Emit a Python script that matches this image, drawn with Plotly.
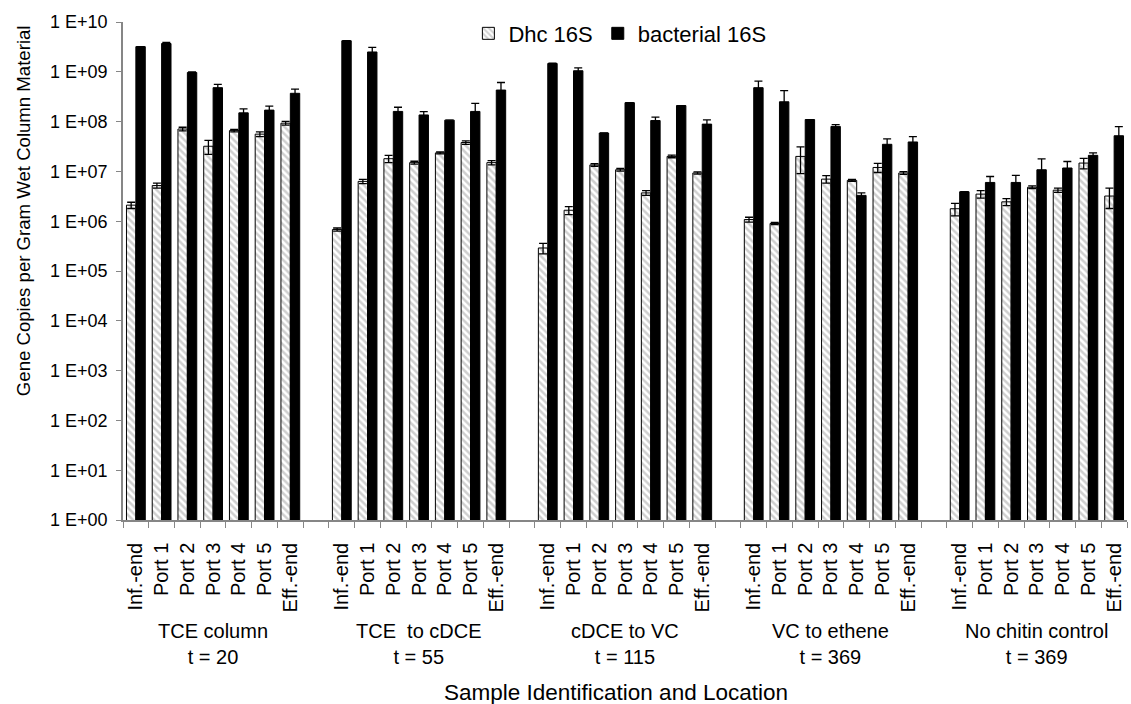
import plotly.graph_objects as go

groups = ["TCE column<br>t = 20", "TCE  to cDCE<br>t = 55", "cDCE to VC<br>t = 115",
          "VC to ethene<br>t = 369", "No chitin control<br>t = 369"]
samples = ["Inf.-end", "Port 1", "Port 2", "Port 3", "Port 4", "Port 5", "Eff.-end"]

dhc = [
    [2.1e6, 5.2e6, 7.1e7, 3.2e7, 6.6e7, 5.6e7, 9.3e7],
    [6.8e5, 6.3e6, 1.8e7, 1.5e7, 2.35e7, 3.8e7, 1.5e7],
    [2.9e5, 1.66e6, 1.35e7, 1.08e7, 3.7e6, 2.0e7, 9.3e6],
    [1.08e6, 9.0e5, 2.0e7, 7.0e6, 6.6e6, 1.2e7, 9.3e6],
    [1.78e6, 3.5e6, 2.45e6, 4.8e6, 4.2e6, 1.47e7, 3.2e6],
]
dhc_err = [
    [3.0e5, 6.0e5, 6.0e6, 1.0e7, 4.0e6, 6.0e6, 8.0e6],
    [5.0e4, 6.0e5, 3.0e6, 1.0e6, 1.0e6, 3.0e6, 1.5e6],
    [7.0e4, 3.0e5, 8.0e5, 7.0e5, 4.0e5, 1.2e6, 5.0e5],
    [1.2e5, 5.0e4, 1.1e7, 1.2e6, 3.0e5, 2.5e6, 6.0e5],
    [5.0e5, 6.0e5, 4.0e5, 3.0e5, 4.0e5, 3.5e6, 1.4e6],
]
bact = [
    [3.2e9, 3.7e9, 9.7e8, 4.8e8, 1.5e8, 1.7e8, 3.7e8],
    [4.2e9, 2.5e9, 1.6e8, 1.36e8, 1.07e8, 1.6e8, 4.3e8],
    [1.47e9, 1.05e9, 5.9e7, 2.4e8, 1.05e8, 2.1e8, 8.9e7],
    [4.8e8, 2.5e8, 1.1e8, 8.0e7, 3.3e6, 3.5e7, 3.9e7],
    [3.9e6, 6.0e6, 6.0e6, 1.08e7, 1.17e7, 2.1e7, 5.2e7],
]
bact_err = [
    [0.0, 2.0e8, 3.0e7, 8.0e7, 3.0e7, 3.5e7, 8.0e7],
    [0.0, 6.0e8, 3.4e7, 2.2e7, 0.0, 7.3e7, 1.8e8],
    [3.0e7, 1.5e8, 0.0, 0.0, 1.8e7, 0.0, 1.9e7],
    [1.7e8, 1.7e8, 0.0, 7.0e6, 4.0e5, 1.0e7, 1.1e7],
    [0.0, 1.9e6, 2.3e6, 7.0e6, 4.1e6, 2.5e6, 2.7e7],
]
ytick_vals = [10 ** k for k in range(11)]
ytick_text = ["1 E+%02d" % k for k in range(11)]

# build category axis: 7 samples per group, one empty category between groups
cats, labels, dv, de, bv, be = [], [], [], [], [], []
for g in range(len(groups)):
    if g > 0:
        cats.append("gap%d" % g); labels.append("")
        dv.append(None); de.append(None); bv.append(None); be.append(None)
    for s in range(len(samples)):
        cats.append("%d|%s" % (g, samples[s])); labels.append(samples[s])
        dv.append(dhc[g][s]); de.append(dhc_err[g][s])
        bv.append(bact[g][s]); be.append(bact_err[g][s])

FONT = "Liberation Sans, Arial, sans-serif"

fig = go.Figure()
fig.add_trace(go.Bar(
    x=cats, y=dv, name="Dhc 16S",
    marker=dict(color="#ffffff",
                pattern=dict(shape="\\", fgcolor="#a0a0a0", bgcolor="#ffffff", size=5, solidity=0.5),
                line=dict(color="#000000", width=1)),
    error_y=dict(type="data", array=de, symmetric=True, color="#000000", thickness=1.3, width=4),
))
fig.add_trace(go.Bar(
    x=cats, y=bv, name="bacterial 16S",
    marker=dict(color="#000000", line=dict(color="#000000", width=1)),
    error_y=dict(type="data", array=be, symmetric=True, color="#000000", thickness=1.3, width=4),
))

axis_col = "#868686"
fig.update_layout(
    width=1131, height=704,
    margin=dict(l=123, r=4, t=22, b=184),
    paper_bgcolor="#ffffff", plot_bgcolor="#ffffff",
    barmode="group", bargap=0.27, bargroupgap=0.0,
    font=dict(family=FONT, size=18, color="#000000"),
    showlegend=True,
    legend=dict(orientation="h", x=0.344, y=1.019, xanchor="left", yanchor="top",
                font=dict(size=22), bgcolor="rgba(0,0,0,0)", tracegroupgap=0,
                itemwidth=30),
    xaxis=dict(type="category", categoryorder="array", categoryarray=cats,
               range=[-0.5, len(cats) - 0.5],
               tickmode="array", tickvals=cats, ticktext=labels, tickangle=-90,
               tickson="boundaries", ticks="outside", ticklen=6, tickcolor=axis_col,
               ticklabelstandoff=13,
               showline=True, linecolor=axis_col, linewidth=1.5, showgrid=False,
               tickfont=dict(size=20)),
    yaxis=dict(type="log", range=[0, 10], tickmode="array", tickvals=ytick_vals,
               ticktext=ytick_text, ticks="outside", ticklen=5, tickcolor=axis_col,
               ticklabelstandoff=5,
               showline=True, linecolor=axis_col, linewidth=1.5, showgrid=False,
               zeroline=False, tickfont=dict(size=18)),
)

# group labels under each block (centered on Port 3)
for g, name in enumerate(groups):
    fig.add_annotation(x="%d|%s" % (g, samples[3]), xref="x", y=-0.248, yref="paper",
                       text=name, showarrow=False, font=dict(size=20),
                       xanchor="center", yanchor="middle", align="center")

fig.add_annotation(x=0.491, xref="paper", y=-0.347, yref="paper",
                   text="Sample Identification and Location", showarrow=False,
                   font=dict(size=22.5), xanchor="center", yanchor="middle")
fig.add_annotation(x=-0.0997, xref="paper", y=0.622, yref="paper",
                   text="Gene Copies per Gram Wet Column Material", showarrow=False,
                   textangle=-90, font=dict(size=18.6), xanchor="center", yanchor="middle")

fig.write_html("out.html")
